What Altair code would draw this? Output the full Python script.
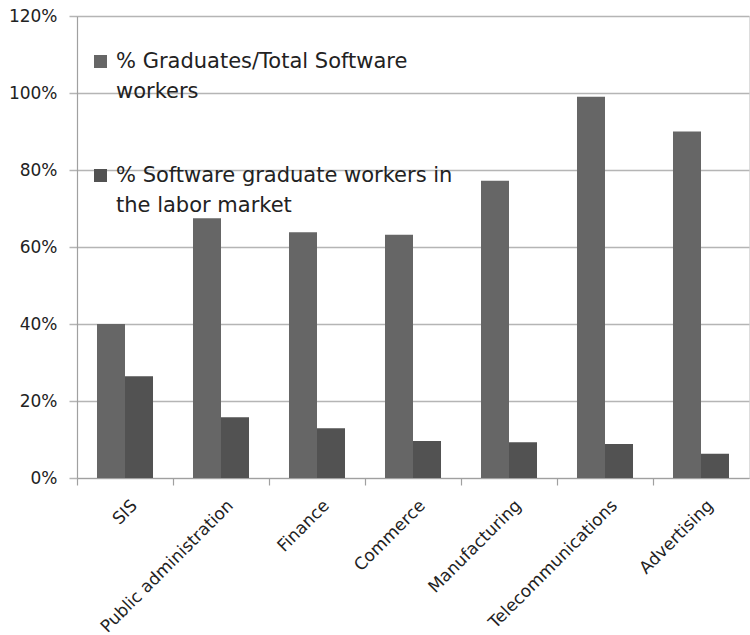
import altair as alt
import pandas as pd

categories = ["SIS", "Public administration", "Finance", "Commerce",
              "Manufacturing", "Telecommunications", "Advertising"]
series_names = ["% Graduates/Total Software\nworkers",
                "%  Software graduate workers in\nthe labor market"]
grad_total = [0.40, 0.675, 0.638, 0.632, 0.772, 0.99, 0.90]
grad_market = [0.264, 0.158, 0.129, 0.096, 0.093, 0.088, 0.063]
colors = ["#666666", "#525252"]
y_ticks = [0, 0.2, 0.4, 0.6, 0.8, 1.0, 1.2]

rows = []
for c, a, b in zip(categories, grad_total, grad_market):
    rows.append({"category": c, "series": series_names[0], "value": a})
    rows.append({"category": c, "series": series_names[1], "value": b})
df = pd.DataFrame(rows)

FONT = "DejaVu Sans"

chart = alt.Chart(df).mark_bar().encode(
    x=alt.X("category:N", sort=categories, title=None,
            scale=alt.Scale(paddingInner=0, paddingOuter=0),
            axis=alt.Axis(labelAngle=-45, labelFontSize=17, labelFont=FONT,
                          labelColor="#222222", labelPadding=12, labelOffset=4,
                          tickSize=7, tickColor="#a0a0a0", tickWidth=1.2,
                          domainColor="#a0a0a0", domainWidth=1.2,
                          bandPosition=0, labelLimit=0)),
    xOffset=alt.XOffset("series:N", sort=series_names,
                        scale=alt.Scale(paddingInner=0, paddingOuter=0.714)),
    y=alt.Y("value:Q", title=None,
            scale=alt.Scale(domain=[0, 1.2], nice=False),
            axis=alt.Axis(values=y_ticks, format=".0%", labelFontSize=17,
                          labelFont=FONT, labelColor="#222222", labelPadding=12,
                          tickSize=8, tickColor="#b5b5b5", tickWidth=1.5,
                          gridColor="#b5b5b5", gridWidth=1.5,
                          domainColor="#a0a0a0", domainWidth=1.2)),
    color=alt.Color("series:N", sort=series_names,
                    scale=alt.Scale(domain=series_names, range=colors),
                    legend=alt.Legend(orient="none", legendX=13, legendY=35,
                                      title=None, padding=0,
                                      symbolType="square", symbolSize=169,
                                      symbolStrokeWidth=0, labelFontSize=21,
                                      labelFont=FONT, labelColor="#222222",
                                      labelOffset=5, labelLimit=0,
                                      labelBaseline="middle",
                                      labelExpr="split(datum.label, '\\n')",
                                      rowPadding=62)),
).properties(
    width=672, height=462,
    autosize=alt.AutoSizeParams(type="none"),
    padding={"left": 77, "top": 16, "right": 1, "bottom": 157},
    background="white",
).configure_view(stroke=None).configure(style={"guide-label": {"lineHeight": 30}})

chart.save("out.html", embed_options={"renderer": "svg", "actions": False})
